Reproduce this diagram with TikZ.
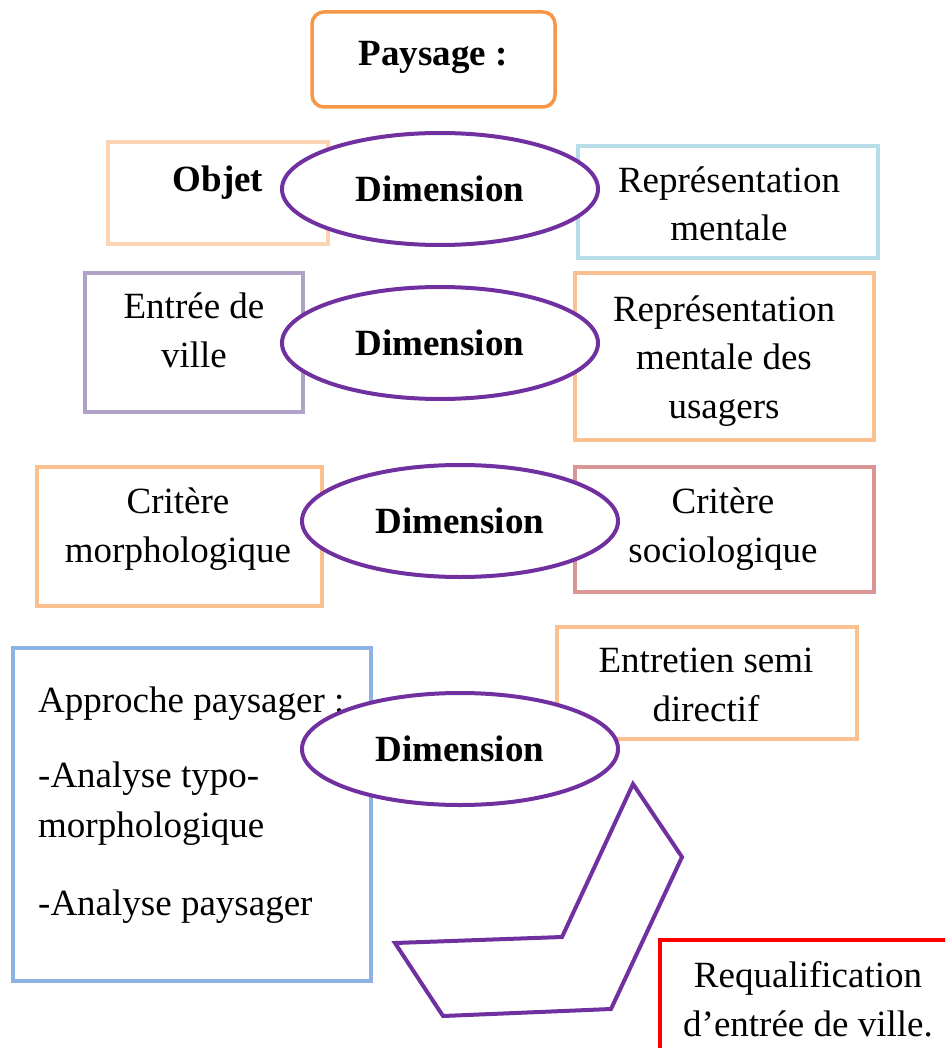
\documentclass[tikz,border=0pt]{standalone}
\usepackage{fontspec}
\setmainfont{Liberation Serif}
\usetikzlibrary{shapes.geometric}
\definecolor{cOrange}{HTML}{F79646}
\definecolor{cPeach}{HTML}{FBD4B4}
\definecolor{cSky}{HTML}{B7DDE8}
\definecolor{cLavender}{HTML}{B2A1C7}
\definecolor{cApricot}{HTML}{FAC090}
\definecolor{cRose}{HTML}{D99694}
\definecolor{cBlue}{HTML}{8DB3E2}
\definecolor{cPurple}{HTML}{7030A0}
\definecolor{cRed}{HTML}{FF0000}
\begin{document}
\begin{tikzpicture}[x=1pt,y=-1pt,
  box/.style={draw,line width=3.5pt,inner sep=0pt},
  dim/.style={ellipse,draw=cPurple,fill=white,line width=4pt,inner sep=0pt,
    minimum width=316pt,minimum height=112pt,
    font=\fontsize{37}{48}\selectfont\bfseries},
  txt/.style={inner sep=0pt,anchor=base,align=center,
    font=\fontsize{37}{48.5}\selectfont},
  txtl/.style={txt,anchor=base west,align=left}]
\useasboundingbox (0,0) rectangle (945,1048);
\clip (0,0) rectangle (945,1048);

% Title
\node[box,draw=cOrange,rounded corners=12pt,minimum width=243pt,minimum height=95pt] (paysage) at (433.5,59.5) {};
\node[txt,font=\fontsize{37}{48}\selectfont\bfseries] (tpaysage) at (433,66) {Paysage :};

% Row 1 (multi-line labels are placed by the baseline of their last line)
\node[box,draw=cPeach,minimum width=220pt,minimum height=102pt] (objet) at (218,193) {};
\node[txt,font=\fontsize{37}{48}\selectfont\bfseries] (tobjet) at (218,192) {Objet};
\node[box,draw=cSky,minimum width=300pt,minimum height=112pt] (repm) at (728,202) {};
\node[txt] (trepm) at (729,241) {Représentation\\mentale};

% Row 2
\node[box,draw=cLavender,minimum width=218pt,minimum height=139pt] (entree) at (194,342.5) {};
\node[txt] (tentree) at (194,367) {Entrée de\\ville};
\node[box,draw=cApricot,minimum width=299pt,minimum height=167pt] (repu) at (724.5,356.5) {};
\node[txt] (trepu) at (724,418) {Représentation\\mentale des\\usagers};

% Row 3
\node[box,draw=cApricot,minimum width=285pt,minimum height=139pt] (cmorph) at (179.5,536.5) {};
\node[txt] (tcmorph) at (178,562) {Critère\\morphologique};
\node[box,draw=cRose,minimum width=299pt,minimum height=125pt] (csoc) at (724.5,529.5) {};
\node[txt] (tcsoc) at (723,562) {Critère\\sociologique};

% Row 4
\node[box,draw=cBlue,minimum width=358pt,minimum height=333pt] (approche) at (192,814.5) {};
\node[txtl,font=\fontsize{37}{50}\selectfont] (tapproche) at (38,915) {Approche paysager :\\[25pt]-Analyse typo-\\morphologique\\[28pt]-Analyse paysager};
\node[box,draw=cApricot,minimum width=300pt,minimum height=112pt] (entretien) at (707,683) {};
\node[txt] (tentretien) at (706,721) {Entretien semi\\directif};

% Outcome
\node[box,draw=cRed,minimum width=300pt,minimum height=130pt] (requal) at (810,1005) {};
\node[txt] (trequal) at (808,1036) {Requalification\\d’entrée de ville.};

% Dimension ellipses
\node[dim] (dim1) at (440,189) {Dimension};
\node[dim] (dim2) at (440,343) {Dimension};
\node[dim] (dim3) at (460,521) {Dimension};
\node[dim] (dim4) at (460,749) {Dimension};

% Chevron arrow
\coordinate (c1) at (633,784);
\coordinate (c2) at (682,857);
\coordinate (c3) at (611,1009);
\coordinate (c4) at (443,1016);
\coordinate (c5) at (395,943);
\coordinate (c6) at (562,937);
\draw[cPurple,line width=4pt,line join=miter] (c1) -- (c2) -- (c3) -- (c4) -- (c5) -- (c6) -- cycle;
\end{tikzpicture}
\end{document}
